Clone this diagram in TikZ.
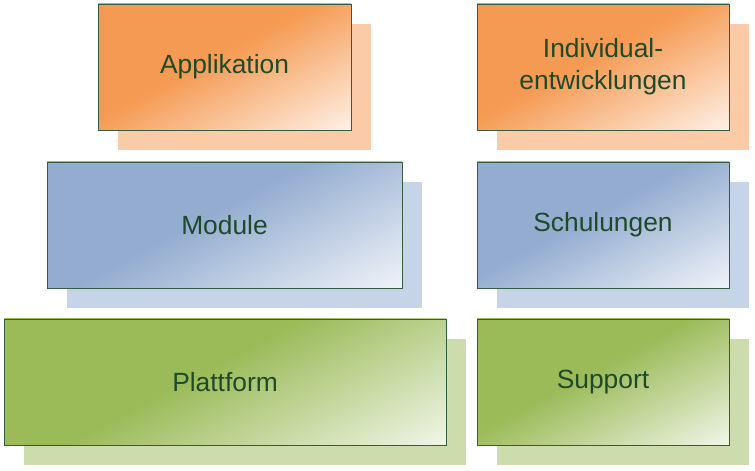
\documentclass[tikz,border=0pt]{standalone}
\usepackage{fontspec}
\setmainfont{Liberation Sans}
\usepackage{xcolor}
\usetikzlibrary{shadows}

\definecolor{appfill}{HTML}{F59A52}
\definecolor{appshadow}{HTML}{FBCBA7}
\definecolor{modfill}{HTML}{93ACD0}
\definecolor{modshadow}{HTML}{C6D4E7}
\definecolor{platfill}{HTML}{9BBB59}
\definecolor{platshadow}{HTML}{CDDCAC}
\definecolor{tileline}{HTML}{345C3E}
\definecolor{tiletext}{HTML}{1E4A2A}

\pgfdeclarehorizontalshading{appshade}{100bp}{color(0bp)=(appfill); color(46bp)=(appfill); color(90bp)=(white); color(100bp)=(white)}
\pgfdeclarehorizontalshading{modshade}{100bp}{color(0bp)=(modfill); color(46bp)=(modfill); color(90bp)=(white); color(100bp)=(white)}
\pgfdeclarehorizontalshading{platshade}{100bp}{color(0bp)=(platfill); color(46bp)=(platfill); color(90bp)=(white); color(100bp)=(white)}

\begin{document}
\begin{tikzpicture}[
    tile/.style={
      draw=tileline, line width=0.55pt,
      minimum height=2.52cm, inner sep=0pt,
      align=center, text=tiletext, font=\fontsize{15}{18}\selectfont,
      shading angle=-62
    },
    app/.style={
      tile, shading=appshade,
      drop shadow={shadow xshift=0.4cm, shadow yshift=-0.4cm, fill=appshadow, opacity=1}
    },
    mod/.style={
      tile, shading=modshade,
      drop shadow={shadow xshift=0.4cm, shadow yshift=-0.4cm, fill=modshadow, opacity=1}
    },
    plat/.style={
      tile, shading=platshade,
      drop shadow={shadow xshift=0.4cm, shadow yshift=-0.4cm, fill=platshadow, opacity=1}
    }
  ]
    \useasboundingbox (0,0) rectangle (15.1,-9.42);

    % Left column
    \node[app,  minimum width=5.06cm] (appl)  at (4.49, -1.34) {Applikation};
    \node[mod,  minimum width=7.10cm] (modul) at (4.49, -4.50) {Module};
    \node[plat, minimum width=8.84cm] (platt) at (4.50, -7.64) {Plattform};

    % Right column
    \node[app,  minimum width=5.04cm] (indiv) at (12.06, -1.34) {Individual-\\entwicklungen};
    \node[mod,  minimum width=5.04cm] (schul) at (12.06, -4.50) {Schulungen};
    \node[plat, minimum width=5.04cm] (supp)  at (12.06, -7.64) {Support};

  \end{tikzpicture}
\end{document}
